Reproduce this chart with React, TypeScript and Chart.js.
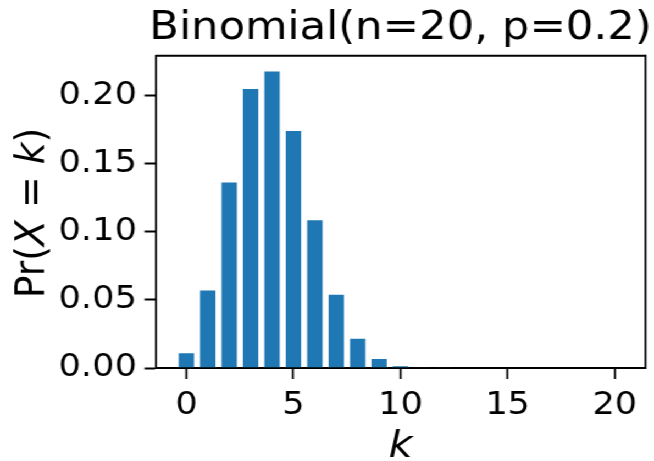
import React, { useEffect, useRef } from "react";
import { Chart, registerables } from "chart.js";

Chart.register(...registerables);

// ---- data ----
const ks: number[] = [0, 1, 2, 3, 4, 5, 6, 7, 8, 9, 10, 11, 12, 13, 14, 15, 16, 17, 18, 19, 20];
const probs: number[] = [
  0.0115, 0.0576, 0.1369, 0.2054, 0.2182, 0.1746, 0.1091, 0.0545, 0.0222, 0.0074,
  0.002, 0.0005, 0.0001, 0, 0, 0, 0, 0, 0, 0, 0,
];
const xTicks: number[] = [0, 5, 10, 15, 20];
const yTicks: number[] = [0, 0.05, 0.1, 0.15, 0.2];
const titleText = "Binomial(n=20, p=0.2)";
const xLabel = "k";
const yLabelParts: { t: string; italic: boolean }[] = [
  { t: "Pr(", italic: false },
  { t: "X", italic: true },
  { t: " = ", italic: false },
  { t: "k", italic: true },
  { t: ")", italic: false },
];

const FONT = "'DejaVu Sans', 'Liberation Sans', sans-serif";
const CANVAS_W = 595;
const CANVAS_H = 461;
const STRETCH = 654 / CANVAS_W;

const decorPlugin = {
  id: "decor",
  afterDraw(chart: any) {
    const { ctx, chartArea } = chart;
    const { left, right, top, bottom } = chartArea;
    ctx.save();
    // top and right spines
    ctx.strokeStyle = "#000";
    ctx.lineWidth = 2;
    ctx.beginPath();
    ctx.moveTo(left, top);
    ctx.lineTo(right, top);
    ctx.stroke();
    ctx.lineWidth = 1.8;
    ctx.beginPath();
    ctx.moveTo(right, top - 1);
    ctx.lineTo(right, bottom + 1);
    ctx.stroke();

    const cx = (left + right) / 2;
    ctx.fillStyle = "#000";
    // title
    ctx.font = `39.5px ${FONT}`;
    ctx.textAlign = "center";
    ctx.textBaseline = "alphabetic";
    ctx.fillText(titleText, cx, 39);

    // x label
    ctx.font = `italic 37.8px ${FONT}`;
    ctx.fillText(xLabel, cx, 457);

    // y label (rotated, mixed fonts)
    const size = 37.8;
    const fonts = yLabelParts.map((p) => `${p.italic ? "italic " : ""}${size}px ${FONT}`);
    let total = 0;
    const widths = yLabelParts.map((p, i) => {
      ctx.font = fonts[i];
      const w = ctx.measureText(p.t).width;
      total += w;
      return w;
    });
    ctx.translate(39.5, 213);
    ctx.rotate(-Math.PI / 2);
    ctx.textAlign = "left";
    let x = -total / 2;
    yLabelParts.forEach((p, i) => {
      ctx.font = fonts[i];
      ctx.fillText(p.t, x, 0);
      x += widths[i];
    });
    ctx.restore();
  },
};

export default function App() {
  const ref = useRef<HTMLCanvasElement | null>(null);
  useEffect(() => {
    if (!ref.current) return;
    const chart = new Chart(ref.current, {
      type: "bar",
      data: {
        datasets: [
          {
            data: ks.map((k, i) => ({ x: k, y: probs[i] })),
            backgroundColor: "#1f77b4",
            borderColor: "rgba(255,255,255,0.45)",
            borderWidth: 1,
            categoryPercentage: 1,
            barPercentage: 0.82,
          },
        ],
      },
      options: {
        responsive: false,
        animation: false,
        layout: { padding: { top: 55.7, right: 7.7, bottom: 0, left: 0 } },
        plugins: { legend: { display: false }, tooltip: { enabled: false }, title: { display: false } },
        scales: {
          x: {
            type: "linear",
            offset: false,
            min: -1.44,
            max: 21.44,
            afterBuildTicks: (s: any) => {
              s.ticks = xTicks.map((v) => ({ value: v }));
            },
            afterFit: (s: any) => {
              s.height = CANVAS_H - 368;
            },
            grid: {
              display: true,
              offset: false,
              drawOnChartArea: false,
              drawTicks: true,
              tickLength: 11,
              tickWidth: 1.8,
              tickColor: "#000",
            },
            border: { display: true, color: "#000", width: 2 },
            ticks: {
              autoSkip: false,
              maxRotation: 0,
              padding: 7,
              color: "#000",
              font: { family: FONT, size: 32 },
              callback: (v: any) => String(v),
            },
          },
          y: {
            type: "linear",
            min: 0,
            max: 0.2291,
            afterBuildTicks: (s: any) => {
              s.ticks = yTicks.map((v) => ({ value: v }));
            },
            afterFit: (s: any) => {
              s.width = 141.5;
            },
            grid: {
              display: true,
              drawOnChartArea: false,
              drawTicks: true,
              tickLength: 10,
              tickWidth: 2,
              tickColor: "#000",
            },
            border: { display: true, color: "#000", width: 1.8 },
            ticks: {
              padding: 7,
              color: "#000",
              font: { family: FONT, size: 32 },
              callback: (v: any) => Number(v).toFixed(2),
            },
          },
        },
      },
      plugins: [decorPlugin],
    } as any);
    return () => chart.destroy();
  }, []);

  return (
    <div
      style={{
        position: "fixed",
        left: 0,
        top: 0,
        width: CANVAS_W,
        height: CANVAS_H,
        background: "#fff",
        transform: `scaleX(${STRETCH})`,
        transformOrigin: "0 0",
      }}
    >
      <canvas ref={ref} width={CANVAS_W} height={CANVAS_H} style={{ display: "block" }} />
    </div>
  );
}
